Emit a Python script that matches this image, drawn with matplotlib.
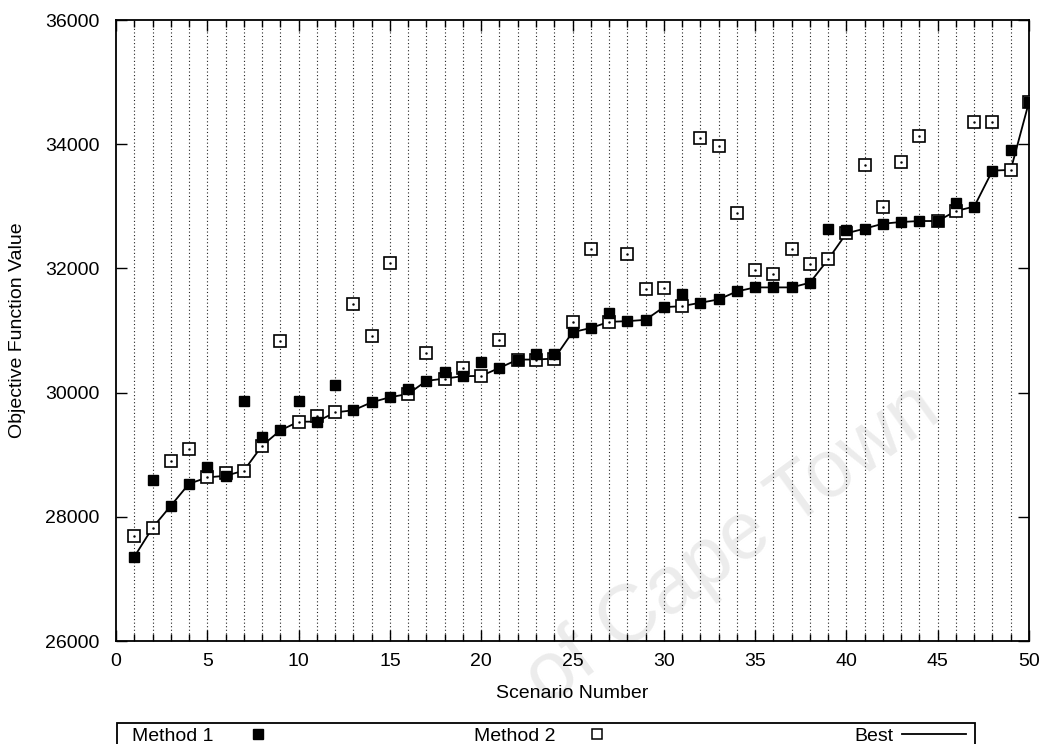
import numpy as np
import matplotlib
matplotlib.use("Agg")
import matplotlib.pyplot as plt
from matplotlib.lines import Line2D
from matplotlib.patches import Rectangle
from matplotlib.ticker import MultipleLocator

plt.rcParams['font.family'] = ['Liberation Sans', 'DejaVu Sans']

# Objective function value for each scenario
scenarios = list(range(1, 51))
method1 = [27355, 28586, 28177, 28532, 28801, 28661, 29860, 29285, 29392, 29871,
           29532, 30129, 29715, 29844, 29925, 30060, 30189, 30328, 30264, 30500,
           30398, 30532, 30624, 30624, 30973, 31040, 31285, 31150, 31172, 31376,
           31592, 31447, 31500, 31629, 31694, 31694, 31694, 31769, 32629, 32613,
           32640, 32720, 32747, 32763, 32763, 33048, 32995, 33575, 33908, 34682]
method2 = [27694, 27823, 28903, 29092, 28634, 28705, 28742, 29145, 30827, 29532,
           29629, 29682, 31431, 30908, 32092, 29979, 30640, 30226, 30398, 30269,
           30839, 30532, 30532, 30548, 31140, 32317, 31140, 32226, 31672, 31688,
           31392, 34097, 33968, 32898, 31973, 31908, 32306, 32070, 32145, 32565,
           33672, 32995, 33715, 34134, 32763, 32925, 34360, 34350, 33586, 34682]
best = np.minimum(method1, method2)

x_ticks = [0, 5, 10, 15, 20, 25, 30, 35, 40, 45, 50]
y_ticks = [26000, 28000, 30000, 32000, 34000, 36000]

fig = plt.figure(figsize=(10.41, 7.44), dpi=100)
ax = fig.add_axes([116 / 1041, 1 - 641 / 744, 913 / 1041, 621 / 744])
ax.set_zorder(2)
ax.patch.set_alpha(0)

# faint diagonal watermark behind the data
fig.text(733 / 1041, 1 - 545 / 744, "of Cape Town", rotation=36, fontsize=58,
         color='#ececec', ha='center', va='center', zorder=0)

# vertical dotted grid at every scenario
for s in scenarios[:-1]:
    ax.axvline(s, color='#222222', lw=0.8, ls=(0, (1, 2.2)), zorder=1)

ax.plot(scenarios, best, color='black', lw=1.3, zorder=3)
ax.plot(scenarios, method2, ls='none', marker='s', ms=8.2, mfc='white',
        mec='black', mew=1.2, zorder=4)
ax.plot(scenarios, method2, ls='none', marker='.', ms=1.5, color='black', zorder=4)
ax.plot(scenarios, method1, ls='none', marker='s', ms=7.8, mfc='black',
        mec='black', zorder=5)

ax.set_xlim(0, 50)
ax.set_ylim(26000, 36000)
ax.set_xticks(x_ticks)
ax.set_yticks(y_ticks)
ax.xaxis.set_minor_locator(MultipleLocator(1))
ax.tick_params(axis='both', which='major', direction='in', length=8, width=1,
               labelsize=14, top=True, right=True)
ax.tick_params(axis='x', which='minor', direction='in', length=5, width=1,
               top=True)
ax.tick_params(axis='x', which='major', pad=9)
ax.tick_params(axis='y', which='major', pad=12)
for sp in ax.spines.values():
    sp.set_linewidth(1.3)

ax.set_xlabel("Scenario Number", fontsize=14)
ax.xaxis.set_label_coords(0.5, -(693 - 641) / 621)
ax.xaxis.label.set_va('center')
ax.set_ylabel("Objective Function Value", fontsize=14)
ax.yaxis.set_label_coords(-(116 - 18) / 913, 0.5)
ax.yaxis.label.set_va('center')

# key along the bottom edge
W, H = 1041, 744
fig.patches.append(Rectangle((117 / W, -0.01), (975 - 117) / W, 0.01 + (H - 723) / H,
                             transform=fig.transFigure, fill=False,
                             edgecolor='black', lw=1.3))
base = 3 / H
mid = (H - 734) / H
fig.text(213 / W, base, "Method 1", ha='right', va='baseline', fontsize=14)
fig.lines.append(Line2D([258 / W], [mid], transform=fig.transFigure, ls='none',
                        marker='s', ms=7, mfc='black', mec='black'))
fig.text(555 / W, base, "Method 2", ha='right', va='baseline', fontsize=14)
fig.lines.append(Line2D([597 / W], [mid], transform=fig.transFigure, ls='none',
                        marker='s', ms=7, mfc='white', mec='black', mew=1.1))
fig.text(894 / W, base, "Best", ha='right', va='baseline', fontsize=14)
fig.lines.append(Line2D([902 / W, 966 / W], [mid, mid], transform=fig.transFigure,
                        color='black', lw=1.3))

fig.savefig("out.png", dpi=100)
